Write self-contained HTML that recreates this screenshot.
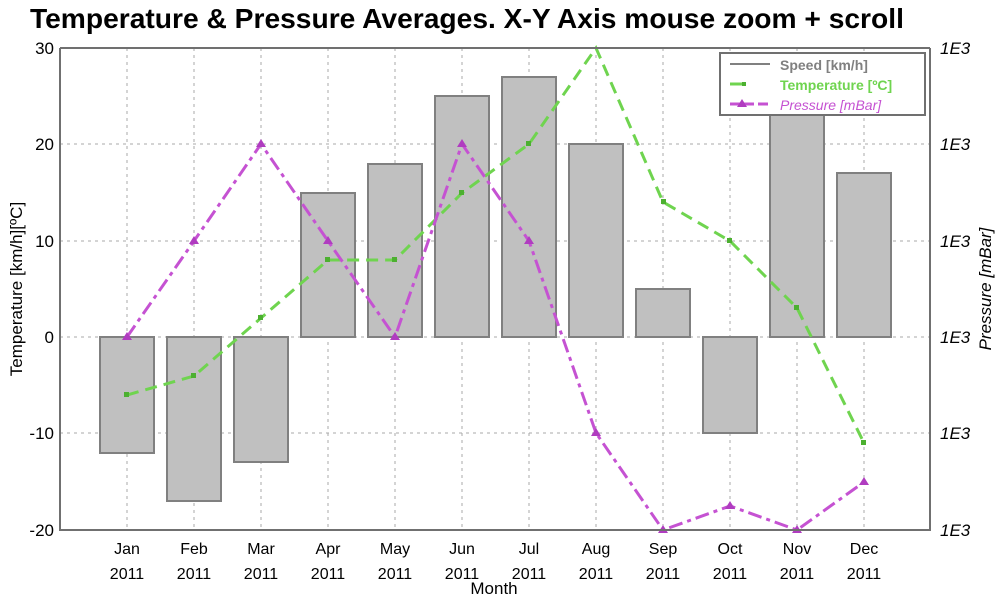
<!DOCTYPE html>
<html><head><meta charset="utf-8"><style>
body{margin:0;background:#fff;font-family:"Liberation Sans",sans-serif;}
svg text{font-family:"Liberation Sans",sans-serif;}
</style></head><body>
<svg width="1000" height="600" xmlns="http://www.w3.org/2000/svg">
<text x="30" y="28" font-size="28.2" font-weight="bold" fill="#000">Temperature &amp; Pressure Averages. X-Y Axis mouse zoom + scroll</text>
<g stroke="#aaa" stroke-width="1" stroke-dasharray="3,4">
<line x1="60" y1="144" x2="930" y2="144"/><line x1="60" y1="241" x2="930" y2="241"/>
<line x1="60" y1="337" x2="930" y2="337"/><line x1="60" y1="433" x2="930" y2="433"/>
<line x1="127" y1="48" x2="127" y2="530"/><line x1="194" y1="48" x2="194" y2="530"/><line x1="261" y1="48" x2="261" y2="530"/><line x1="328" y1="48" x2="328" y2="530"/><line x1="395" y1="48" x2="395" y2="530"/><line x1="462" y1="48" x2="462" y2="530"/><line x1="529" y1="48" x2="529" y2="530"/><line x1="596" y1="48" x2="596" y2="530"/><line x1="663" y1="48" x2="663" y2="530"/><line x1="730" y1="48" x2="730" y2="530"/><line x1="797" y1="48" x2="797" y2="530"/><line x1="864" y1="48" x2="864" y2="530"/>
</g>
<g fill="#c0c0c0" stroke="#808080" stroke-width="2">
<rect x="100" y="337" width="54" height="116"/>
<rect x="167" y="337" width="54" height="164"/>
<rect x="234" y="337" width="54" height="125"/>
<rect x="301" y="193" width="54" height="144"/>
<rect x="368" y="164" width="54" height="173"/>
<rect x="435" y="96" width="54" height="241"/>
<rect x="502" y="77" width="54" height="260"/>
<rect x="569" y="144" width="54" height="193"/>
<rect x="636" y="289" width="54" height="48"/>
<rect x="703" y="337" width="54" height="96"/>
<rect x="770" y="96" width="54" height="241"/>
<rect x="837" y="173" width="54" height="164"/>
</g>
<polyline fill="none" stroke="#6fd44f" stroke-width="3" stroke-dasharray="12,7" points="127,395 194,376 261,318 328,260 395,260 462,193 529,144 596,48 663,202 730,241 797,308 864,443"/>
<g fill="#4cb030">
<rect x="124" y="392" width="5" height="5"/><rect x="191" y="373" width="5" height="5"/><rect x="258" y="315" width="5" height="5"/><rect x="325" y="257" width="5" height="5"/><rect x="392" y="257" width="5" height="5"/><rect x="459" y="190" width="5" height="5"/><rect x="526" y="141" width="5" height="5"/><rect x="661" y="199" width="5" height="5"/><rect x="727" y="238" width="5" height="5"/><rect x="794" y="305" width="5" height="5"/><rect x="861" y="440" width="5" height="5"/>
</g>
<polyline fill="none" stroke="#c552d2" stroke-width="3" stroke-dasharray="14,5,4,5" points="127,337 194,241 261,144 328,241 395,337 462,144 529,241 596,433 663,530 730,506 797,530 864,482"/>
<g fill="#b03cc0">
<path d="M127,332 l-5,8 h10z"/><path d="M194,236 l-5,8 h10z"/><path d="M261,139 l-5,8 h10z"/><path d="M328,236 l-5,8 h10z"/><path d="M395,332 l-5,8 h10z"/><path d="M462,139 l-5,8 h10z"/><path d="M529,236 l-5,8 h10z"/><path d="M596,428 l-5,8 h10z"/><path d="M663,525 l-5,8 h10z"/><path d="M730,501 l-5,8 h10z"/><path d="M797,525 l-5,8 h10z"/><path d="M864,477 l-5,8 h10z"/>
</g>
<g stroke="#707070" stroke-width="2" fill="none">
<line x1="60" y1="48" x2="60" y2="531"/><line x1="59" y1="530" x2="931" y2="530"/>
<line x1="930" y1="48" x2="930" y2="531"/><line x1="60" y1="48" x2="930" y2="48"/>
</g>
<g font-size="17" fill="#000" text-anchor="end">
<text x="54" y="54">30</text><text x="54" y="150">20</text><text x="54" y="247">10</text><text x="54" y="343">0</text><text x="54" y="439">-10</text><text x="54" y="536">-20</text>
</g>
<g font-size="17" fill="#000" font-style="italic">
<text x="940" y="54">1E3</text><text x="940" y="150">1E3</text><text x="940" y="247">1E3</text><text x="940" y="343">1E3</text><text x="940" y="439">1E3</text><text x="940" y="536">1E3</text>
</g>
<g font-size="16" fill="#000" text-anchor="middle">
<text x="127" y="554">Jan</text><text x="127" y="579">2011</text>
<text x="194" y="554">Feb</text><text x="194" y="579">2011</text>
<text x="261" y="554">Mar</text><text x="261" y="579">2011</text>
<text x="328" y="554">Apr</text><text x="328" y="579">2011</text>
<text x="395" y="554">May</text><text x="395" y="579">2011</text>
<text x="462" y="554">Jun</text><text x="462" y="579">2011</text>
<text x="529" y="554">Jul</text><text x="529" y="579">2011</text>
<text x="596" y="554">Aug</text><text x="596" y="579">2011</text>
<text x="663" y="554">Sep</text><text x="663" y="579">2011</text>
<text x="730" y="554">Oct</text><text x="730" y="579">2011</text>
<text x="797" y="554">Nov</text><text x="797" y="579">2011</text>
<text x="864" y="554">Dec</text><text x="864" y="579">2011</text>
<text x="494" y="594" font-size="17">Month</text>
</g>
<text transform="translate(22,289) rotate(-90)" font-size="17" text-anchor="middle">Temperature [km/h][ºC]</text>
<text transform="translate(991,289) rotate(-90)" font-size="17" text-anchor="middle" font-style="italic">Pressure [mBar]</text>
<rect x="720" y="53" width="205" height="62" fill="#fff" stroke="#707070" stroke-width="2"/>
<line x1="730" y1="64" x2="770" y2="64" stroke="#808080" stroke-width="2"/>
<text x="780" y="70" font-size="14" font-weight="bold" fill="#808080">Speed [km/h]</text>
<line x1="730" y1="84" x2="745" y2="84" stroke="#6fd44f" stroke-width="3"/>
<rect x="742" y="82" width="4" height="4" fill="#4cb030"/>
<text x="780" y="90" font-size="14" font-weight="bold" fill="#6fd44f">Temperature [ºC]</text>
<line x1="730" y1="104" x2="770" y2="104" stroke="#c552d2" stroke-width="3" stroke-dasharray="10,4"/>
<path d="M742,99 l-5,8 h10z" fill="#b03cc0"/>
<text x="780" y="110" font-size="14" font-style="italic" fill="#c552d2">Pressure [mBar]</text>
</svg>
</body></html>
